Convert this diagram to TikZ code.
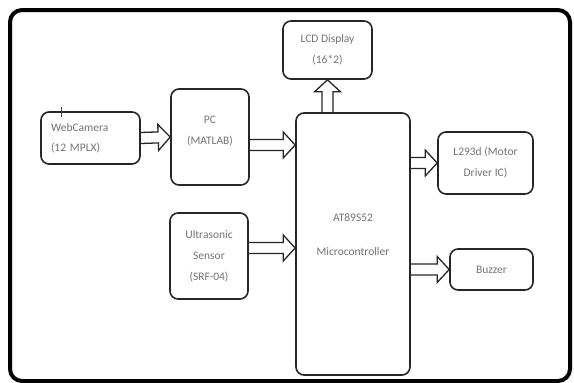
\documentclass[tikz,border=0pt]{standalone}
\usepackage{fontspec}
\setmainfont{Carlito}
\usetikzlibrary{calc}

\begin{document}
\begin{tikzpicture}[x=1pt, y=-1pt,
		block/.style={draw=black!85, line width=1.6pt, rounded corners=8pt, text=black!55, align=center, font=\fontsize{11.5}{21}\selectfont},
		bus/.style={draw=black!85, line width=1.3pt, line join=miter, to path={
				let \p0=($(\tikztotarget)!12pt!(\tikztostart)$) in
				($(\tikztostart)!5.5pt!90:(\tikztotarget)$) -- ($(\p0)!5.5pt!90:(\tikztotarget)$)
				-- ($(\p0)!13pt!90:(\tikztotarget)$) -- (\tikztotarget) -- ($(\p0)!13pt!-90:(\tikztotarget)$)
				-- ($(\p0)!5.5pt!-90:(\tikztotarget)$) -- ($(\tikztostart)!5.5pt!-90:(\tikztotarget)$)}}]
		\useasboundingbox (0,0) rectangle (574,383);
		\draw [line width=4pt, rounded corners=12pt] (10,10) rectangle (570,381);
		
		\node (cam) [block, minimum width=99pt, minimum height=52pt, text width=79pt, align=left, font=\fontsize{11.5}{20}\selectfont] at (90.5,138) {WebCamera\\(12 MPLX)};
		\node (pc) [block, minimum width=78pt, minimum height=96pt] at (210,137) {PC\\(MATLAB)\\[-7pt]\mbox{}};
		\node (lcd) [block, minimum width=89pt, minimum height=58pt] at (327.5,50) {LCD Display\\(16*2)};
		\node (mcu) [block, minimum width=114pt, minimum height=262pt] at (353,244) {AT89S52\\[13pt]Microcontroller\\[-2pt]\mbox{}};
		\node (sensor) [block, minimum width=78pt, minimum height=86pt] at (209,256) {Ultrasonic\\Sensor\\(SRF-04)};
		\node (driver) [block, minimum width=95pt, minimum height=62pt] at (485.5,163) {L293d (Motor\\Driver IC)};
		\node (buzzer) [block, minimum width=83pt, minimum height=41pt] at (491.5,269.5) {Buzzer};
		
		\draw [black!70, line width=0.8pt] ([xshift=21pt, yshift=4pt]cam.north west) -- ++(0,10); %cursor mark
		
		\draw [bus] (cam.east) to (pc.west);
		\draw [bus] ([yshift=-8pt]pc.east) to ([yshift=-8pt]pc.east -| mcu.west);
		\draw [bus] ([yshift=8pt]sensor.east) to ([yshift=8pt]sensor.east -| mcu.west);
		\draw [bus] (lcd.south |- mcu.north) to (lcd.south);
		\draw [bus] (driver.west -| mcu.east) to (driver.west);
		\draw [bus] (buzzer.west -| mcu.east) to (buzzer.west);
	\end{tikzpicture}
\end{document}
